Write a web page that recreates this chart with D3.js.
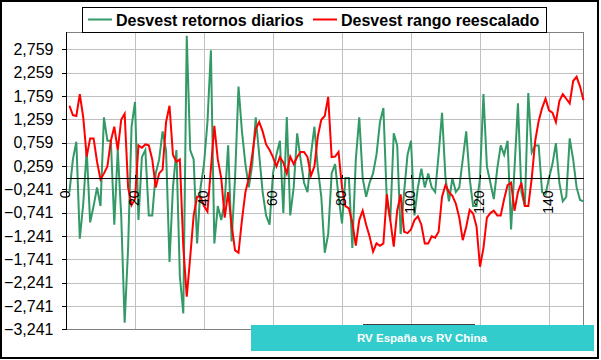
<!DOCTYPE html>
<html>
<head>
<meta charset="utf-8">
<script src="https://cdn.jsdelivr.net/npm/d3@7"></script>
<style>
html,body{margin:0;padding:0;background:#fff;}
svg{display:block;}
text{font-family:Arial,"Liberation Sans",sans-serif;}
</style>
</head>
<body>
<div id="chart"></div>
<script>
// ---- data ----
const seriesNames = ["Desvest retornos diarios", "Desvest rango reescalado"];
const yTickValues = [-3.241, -2.741, -2.241, -1.741, -1.241, -0.741, -0.241, 0.259, 0.759, 1.259, 1.759, 2.259, 2.759];
const xTickValues = [0, 20, 40, 60, 80, 100, 120, 140];
const chartTitle = "RV España vs RV China";

const retornos = [
 -0.3, 0.4, 0.78, -1.3, -0.55, 0.6, -0.95, -0.6, -0.2, -0.6,
 1.3, 0.8, 0.8, -1.0, 0.6, -0.8, -3.1, -1.5, 1.1, 1.63,
 -0.9, 0.45, 0.6, -0.8, -0.8, 0.1, 0.4, 1.0, 0.6, -1.8,
 -0.2, 0.6, -2.1, -2.9, 3.05, 0.6, 0.4, -1.4, -0.2, 0.3,
 1.2, 2.74, -1.4, -0.6, -0.9, -0.5, 0.7, -1.36, 0.0, 1.96,
 1.0, 0.3, -0.2, 0.3, 1.3, 0.5, -0.3, -0.8, -1.0, 0.1,
 0.5, 0.8, -0.75, 1.31, -0.8, -0.2, 0.96, 0.4, -0.1, -0.3,
 0.5, 1.1, 0.2, -0.4, -1.6, -1.2, 0.1, 0.3, -0.4, -0.97,
 0.0, 0.0, -1.5, 0.4, 1.3, 0.0, -0.4, -0.1, 0.1, 0.5,
 1.2, 1.5, -0.5, -0.9, 0.96, 0.7, -1.2, -0.3, 0.5, 0.8,
 -0.8, -0.2, 0.2, -0.2, 0.1, -0.2, -0.3, 0.5, 1.4, 0.0,
 -0.5, 0.0, -0.3, -0.2, 0.4, 1.0, 0.0, -0.6, -0.6, 0.0,
 1.8, 0.25, -0.1, -0.45, 0.2, 0.7, 0.5, 0.8, -1.1, 0.2,
 1.6, -0.3, -0.6, 1.82, 0.55, 0.7, 0.7, -0.3, -0.35, 0.0,
 0.3, 0.75, -0.1, -0.5, -0.4, 0.85, 0.4, -0.2, -0.47, -0.5
];
const rango = [
 1.55, 1.35, 1.33, 1.8, 1.3, 0.46, 0.85, 0.85, 0.35, -0.03,
 0.1, 0.25, 0.8, 1.1, 0.6, 1.25, 1.38, -0.2, -0.58, -0.45,
 0.7, 0.65, 0.72, 0.7, 0.4, -0.2, 0.1, 0.18, 1.2, 1.55,
 0.5, 0.35, 0.4, -1.47, -2.54, -1.7, -0.8, -0.4, -0.4, -0.6,
 -0.72, 0.2, 1.12, 0.4, 0.0, -0.85, -0.3, -1.0, -1.55, -1.6,
 -0.9, -0.3, 0.0, 0.5, 1.05, 1.2, 1.0, 0.72, 0.6, 0.45,
 0.25, 0.45, 0.33, 0.1, 0.46, 0.3, 0.45, 0.56, 0.56, 0.45,
 0.05, 0.25, 0.9, 1.25, 1.33, 1.74, 0.45, 0.46, 0.56, -0.2,
 -0.6, -0.65, -0.95, -1.45, -0.9, -0.7, -1.0, -1.25, -1.58, -1.4,
 -1.45, -1.4, -0.35, -0.9, -1.47, -0.7, -0.35, -1.15, -1.18, -1.1,
 -0.9, -0.82, -1.0, -1.4, -1.4, -1.25, -1.28, -1.15, -0.4, -0.15,
 -0.3, -0.38, -0.55, -0.85, -1.33, -1.05, -0.68, -0.76, -1.04, -1.9,
 -1.5, -0.85, -0.75, -0.7, -0.8, -0.8, -0.45, -0.15, -0.1, -0.7,
 -0.3, -0.1, -0.6, -0.6, 0.0, 0.8, 1.22, 1.5, 1.7, 1.45,
 1.4, 1.2, 1.65, 1.8, 1.7, 1.6, 2.08, 2.17, 1.96, 1.67
];

// ---- layout ----
const W = 601, H = 360;
const plot = {left: 66, right: 583.5, top: 32, bottom: 329.3};

const svg = d3.select("#chart").append("svg").attr("width", W).attr("height", H);

svg.append("rect").attr("x", 1).attr("y", 1).attr("width", 597).attr("height", 357)
  .attr("fill", "#fff").attr("stroke", "#000").attr("stroke-width", 2);

const x = d3.scaleLinear().domain([0, 150]).range([plot.left, plot.right]);
const y = d3.scaleLinear().domain([-3.241, 3.13]).range([plot.bottom, plot.top]);

// gridlines
const grid = svg.append("g").attr("shape-rendering", "crispEdges");
grid.selectAll("line.h").data(yTickValues).enter().append("line")
  .attr("x1", plot.left).attr("x2", plot.right)
  .attr("y1", d => Math.round(y(d)) + 0.5).attr("y2", d => Math.round(y(d)) + 0.5)
  .attr("stroke", "#c0c0c0");
grid.selectAll("line.v").data(xTickValues.slice(1)).enter().append("line")
  .attr("y1", plot.top).attr("y2", plot.bottom)
  .attr("x1", d => Math.round(x(d)) + 0.5).attr("x2", d => Math.round(x(d)) + 0.5)
  .attr("stroke", "#c0c0c0");

// plot border (gray)
svg.append("rect").attr("x", plot.left + 0.5).attr("y", plot.top + 0.5)
  .attr("width", plot.right - plot.left - 1).attr("height", plot.bottom - plot.top)
  .attr("fill", "none").attr("stroke", "#808080").attr("shape-rendering", "crispEdges");

// series
const idx = d3.range(1, 151);
const line = d3.line().x((d, i) => x(idx[i])).y(d => y(d));
svg.append("path").datum(retornos).attr("d", line)
  .attr("fill", "none").attr("stroke", "#339966").attr("stroke-width", 2).attr("stroke-linejoin", "miter");
svg.append("path").datum(rango).attr("d", line)
  .attr("fill", "none").attr("stroke", "#ff0000").attr("stroke-width", 2).attr("stroke-linejoin", "miter");

// y axis
const yAxis = d3.axisLeft(y).tickValues(yTickValues).tickSize(5).tickPadding(8)
  .tickFormat(d => d3.format(".3f")(d).replace(".", ",").replace("-", "-"));
const gy = svg.append("g").attr("transform", `translate(${plot.left + 0.5},0)`).call(yAxis);
gy.select(".domain").attr("stroke", "#000").attr("d", `M0,${plot.top}V${plot.bottom}`);
gy.selectAll(".tick line").attr("stroke", "#000");
gy.selectAll(".tick text").attr("font-size", 16).attr("fill", "#000")
  .attr("font-family", "Arial, 'Liberation Sans', sans-serif");
gy.attr("shape-rendering", "crispEdges");

// x axis at zero
const x0 = Math.round(y(0)) + 0.5;
const xAxis = d3.axisTop(x).tickValues(xTickValues).tickSize(4).tickFormat("");
const gx = svg.append("g").attr("transform", `translate(0,${x0})`).call(xAxis)
  .attr("shape-rendering", "crispEdges");
gx.select(".domain").attr("stroke", "#000").attr("d", `M${plot.left},0H${plot.right}`);
gx.selectAll(".tick line").attr("stroke", "#000");

// x tick labels rotated
svg.append("g").selectAll("text").data(xTickValues).enter().append("text")
  .attr("transform", d => `translate(${x(d) - 1},${x0 + 12}) rotate(-90)`)
  .attr("text-anchor", "end").attr("dy", "0.35em")
  .attr("font-size", 14).attr("fill", "#000")
  .text(d => d);

// legend
const lg = svg.append("g");
lg.append("rect").attr("x", 82.5).attr("y", 7.5).attr("width", 464).attr("height", 25)
  .attr("fill", "#fff").attr("stroke", "#000").attr("shape-rendering", "crispEdges");
const legendItems = [
  {name: seriesNames[0], color: "#339966", x: 88},
  {name: seriesNames[1], color: "#ff0000", x: 313}
];
legendItems.forEach(it => {
  lg.append("line").attr("x1", it.x).attr("x2", it.x + 24).attr("y1", 19.5).attr("y2", 19.5)
    .attr("stroke", it.color).attr("stroke-width", 2);
  lg.append("text").attr("x", it.x + 28).attr("y", 25.5).attr("font-size", 16)
    .attr("font-weight", "bold").attr("fill", "#000").text(it.name);
});

// title box
svg.append("line").attr("x1", 363).attr("x2", 475).attr("y1", 324.5).attr("y2", 324.5)
  .attr("stroke", "#404040");
svg.append("rect").attr("x", 251).attr("y", 325).attr("width", 343).attr("height", 26)
  .attr("fill", "#33cccc");
svg.append("text").attr("x", 422).attr("y", 341.5).attr("text-anchor", "middle")
  .attr("font-size", 11.5).attr("font-weight", "bold").attr("fill", "#fff").text(chartTitle);
</script>
</body>
</html>
